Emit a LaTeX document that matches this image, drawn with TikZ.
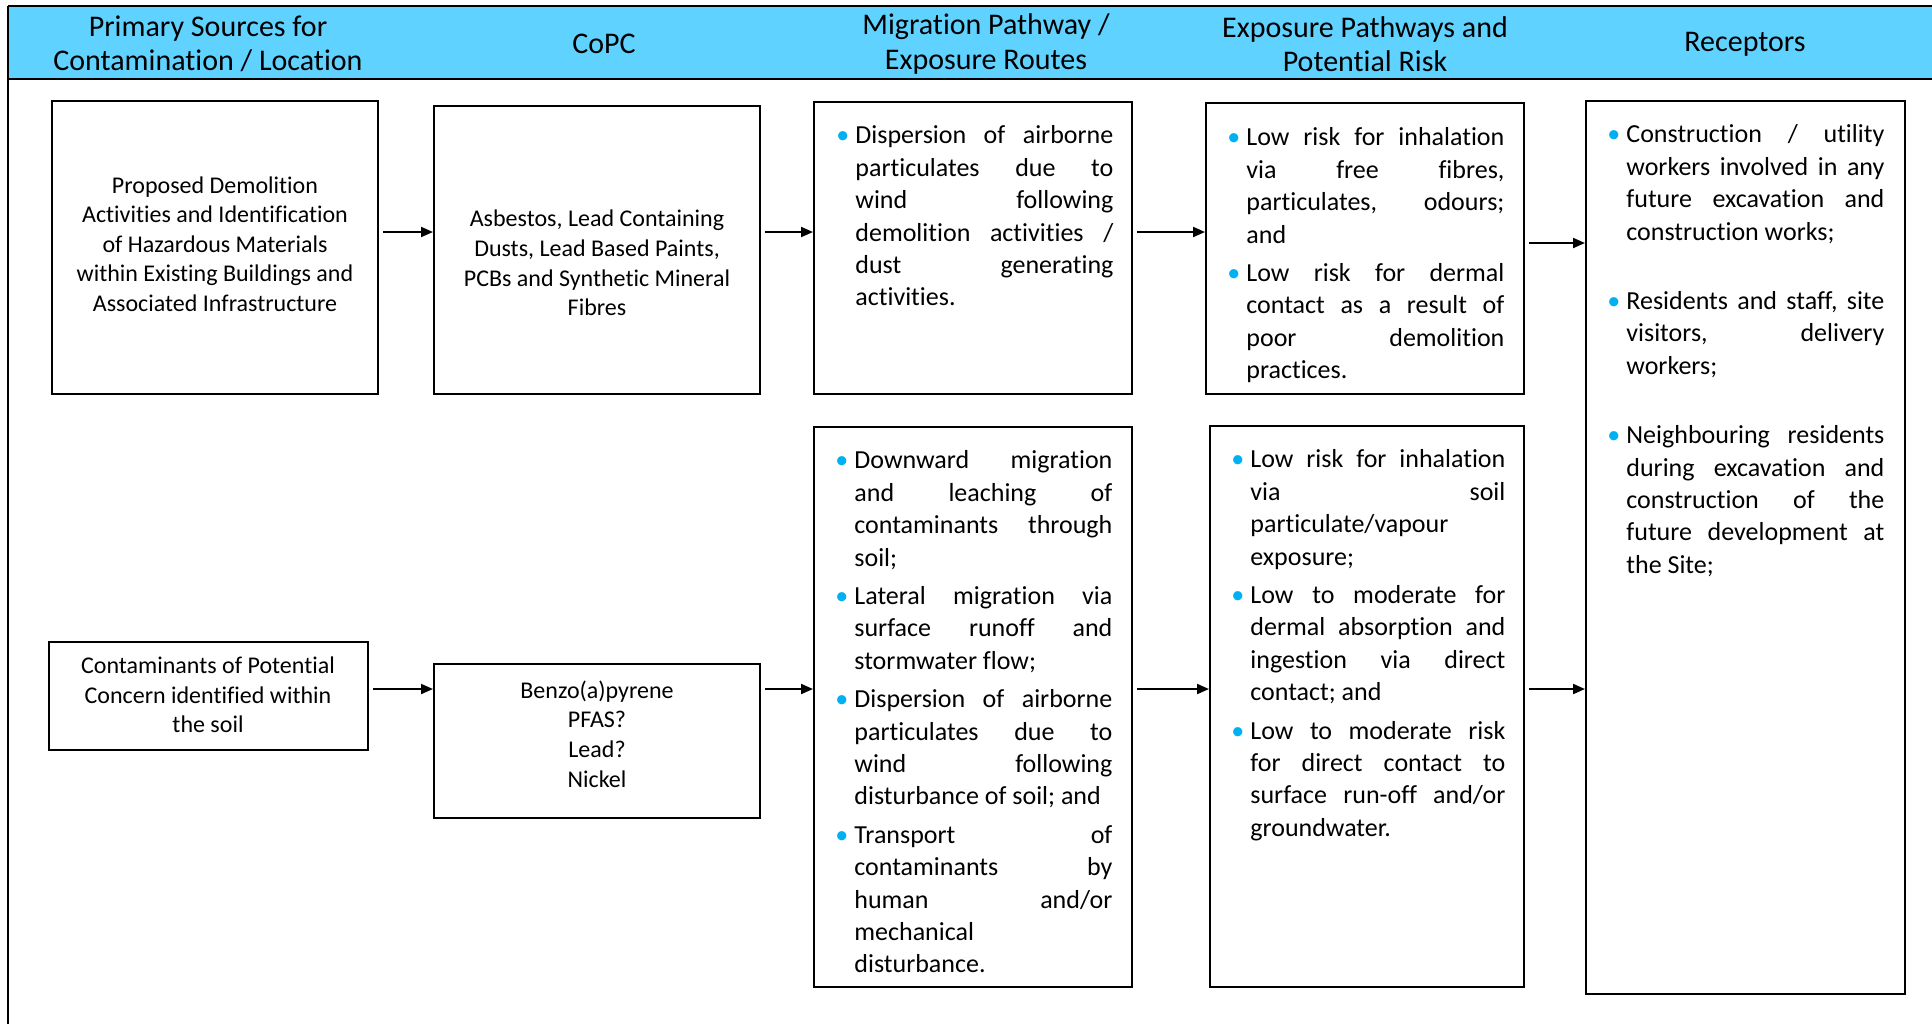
\documentclass[tikz,border=0pt]{standalone}
\usepackage{fontspec}
\setmainfont{Carlito}[Ligatures=NoCommon]
\usetikzlibrary{arrows.meta, positioning, fit}
\definecolor{headblue}{RGB}{95,210,255}
\definecolor{bulletblue}{RGB}{0,176,240}
\frenchspacing
\hyphenpenalty=10000
\exhyphenpenalty=10000
\hbadness=10000
\tolerance=10000
\newcommand{\bitem}[1][3pt]{\par\vspace{#1}\noindent\hangindent=9.5pt\hangafter=1\makebox[9.5pt][l]{\textcolor{bulletblue}{\textbullet}}\strut\ignorespaces}

\begin{document}
\begin{tikzpicture}[x=0.5pt, y=-0.5pt,
  box/.style={draw, line width=1pt, inner sep=0pt},
  boxtext/.style={align=center, inner sep=0pt, font=\fontsize{12pt}{14.8pt}\selectfont},
  bultext/.style={anchor=north west, inner sep=0pt, text width=138.5pt, align=justify, font=\fontsize{13pt}{16.2pt}\selectfont},
  headtext/.style={align=center, inner sep=0pt, font=\fontsize{15pt}{17.3pt}\selectfont},
  frame/.style={line width=1.4pt},
  flow/.style={line width=1pt, -{Triangle[length=6pt,width=5pt]}, shorten <=2pt}]
  \useasboundingbox (0,0) rectangle (1932,1024);

  % header band
  \fill[headblue] (8,6) rectangle (1932,79);
  \draw[frame] (8,6) -- (1932,6);
  \draw[frame] (8,79) -- (1932,79);
  \draw[frame] (8,6) -- (8,1024);
  \node[headtext] (h1) at (208,44) {Primary Sources for\\Contamination / Location};
  \node[headtext] (h2) at (604,44) {CoPC};
  \node[headtext] (h3) at (986,44) {Migration Pathway /\\Exposure Routes};
  \node[headtext] (h4) at (1365,44) {Exposure Pathways and\\Potential Risk};
  \node[headtext] (h5) at (1745,44) {Receptors};

  % boxes
  \node[box, fit={(52,101) (378,394)}] (a1) {};
  \node[box, fit={(434,106) (760,394)}] (b1) {};
  \node[box, fit={(814,102) (1132,394)}] (c1) {};
  \node[box, fit={(1206,103) (1524,394)}] (d1) {};
  \node[box, fit={(1586,101) (1905,994)}] (e) {};
  \node[box, fit={(49,642) (368,750)}] (a2) {};
  \node[box, fit={(434,664) (760,818)}] (b2) {};
  \node[box, fit={(814,427) (1132,987)}] (c2) {};
  \node[box, fit={(1210,426) (1524,987)}] (d2) {};

  % box texts
  \node[boxtext] (a1txt) at (215,244) {Proposed Demolition\\Activities and Identification\\of Hazardous Materials\\within Existing Buildings and\\Associated Infrastructure};
  \node[boxtext] (b1txt) at (597,263) {Asbestos, Lead Containing\\Dusts, Lead Based Paints,\\PCBs and Synthetic Mineral\\Fibres};
  \node[boxtext] (a2txt) at (208,695) {Contaminants of Potential\\Concern identified within\\the soil};
  \node[boxtext] (b2txt) at (597,734) {Benzo(a)pyrene\\PFAS?\\Lead?\\Nickel};

  \node[bultext] (c1txt) at (836,111) {\bitem[0pt] Dispersion of airborne\linebreak particulates due to\linebreak wind following\linebreak demolition activities /\linebreak dust generating\linebreak activities.\par};
  \node[bultext] (d1txt) at (1227,113) {\bitem[0pt] Low risk for inhalation\linebreak via free fibres,\linebreak particulates, odours;\linebreak and
    \bitem Low risk for dermal\linebreak contact as a result of\linebreak poor demolition\linebreak practices.\par};
  \node[bultext] (etxt) at (1607,110) {\bitem[0pt] Construction / utility\linebreak workers involved in any\linebreak future excavation and\linebreak construction works;
    \bitem[18.5pt] Residents and staff, site\linebreak visitors, delivery\linebreak workers;
    \bitem[18.5pt] Neighbouring residents\linebreak during excavation and\linebreak construction of the\linebreak future development at\linebreak the Site;\par};
  \node[bultext] (c2txt) at (835,436) {\bitem[0pt] Downward migration\linebreak and leaching of\linebreak contaminants through\linebreak soil;
    \bitem Lateral migration via\linebreak surface runoff and\linebreak stormwater flow;
    \bitem Dispersion of airborne\linebreak particulates due to\linebreak wind following\linebreak \mbox{disturbance of soil; and}
    \bitem Transport of\linebreak contaminants by\linebreak human and/or\linebreak mechanical\linebreak disturbance.\par};
  \node[bultext, text width=137pt] (d2txt) at (1231,435) {\bitem[0pt] Low risk for inhalation\linebreak via soil\linebreak particulate/vapour\linebreak exposure;
    \bitem Low to moderate for\linebreak dermal absorption and\linebreak ingestion via direct\linebreak contact; and
    \bitem Low to moderate risk\linebreak for direct contact to\linebreak surface run-off and/or\linebreak groundwater.\par};

  % connectors
  \coordinate (r1) at (0,232);
  \coordinate (r1e) at (0,243);
  \coordinate (r2) at (0,689);
  \foreach \s/\t/\r in {a1/b1/r1, b1/c1/r1, c1/d1/r1, d1/e/r1e, a2/b2/r2, b2/c2/r2, c2/d2/r2, d2/e/r2}
    \draw[flow] (\s.east |- \r) -- (\t.west |- \r);
\end{tikzpicture}
\end{document}
